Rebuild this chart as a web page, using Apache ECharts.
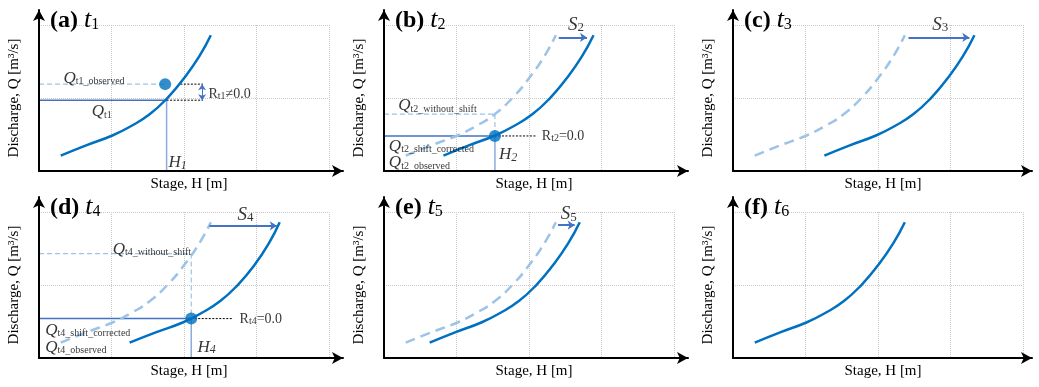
<!DOCTYPE html>
<html>
<head>
<meta charset="utf-8">
<script src="https://cdn.jsdelivr.net/npm/echarts@6/dist/echarts.min.js"></script>
<style>
html, body { margin: 0; padding: 0; background: #fff; }
#chart { width: 1039px; height: 387px; }
</style>
</head>
<body>
<div id="chart"></div>
<script>
// discharge values shared by every rating curve (axis units: 0..2)
var curveQ = [0.21, 0.35, 0.49, 0.61, 0.78, 1.01, 1.27, 1.57, 1.86];
// stage values of each curve (axis units: 0..4)
var stageT1 = [0.30, 0.65, 1.02, 1.26, 1.53, 1.78, 2.00, 2.21, 2.37];
var stageT2 = [0.82, 1.17, 1.54, 1.78, 2.05, 2.30, 2.52, 2.73, 2.89];
var stageT3 = [1.26, 1.61, 1.98, 2.22, 2.49, 2.74, 2.96, 3.17, 3.33];
var stageT4 = [1.25, 1.61, 1.99, 2.23, 2.50, 2.75, 2.97, 3.17, 3.32];
var stageT5 = [0.63, 0.98, 1.35, 1.59, 1.86, 2.11, 2.33, 2.54, 2.70];
var stageT6 = [0.30, 0.65, 1.02, 1.26, 1.53, 1.78, 2.00, 2.21, 2.37];

var panelTags = ['a', 'b', 'c', 'd', 'e', 'f'];
var panelTimes = ['1', '2', '3', '4', '5', '6'];
var solidStages = [stageT1, stageT2, stageT3, stageT4, stageT5, stageT6];
var dashedStages = [null, stageT1, stageT1, stageT1, stageT1, null];

var shiftArrows = [null, [[2.41, 1.83], [2.80, 1.83]], [[2.42, 1.83], [3.26, 1.83]],
  [[2.35, 1.81], [3.28, 1.81]], [[2.40, 1.82], [2.63, 1.82]], null];
var observedPoints = [[1.74, 1.19], [1.53, 0.48], null, [2.10, 0.54], null, null];
var qLines = [[[0, 0.97], [1.76, 0.97]], [[0, 0.48], [1.53, 0.48]], null, [[0, 0.54], [2.10, 0.54]], null, null];
var hLines = [[[1.76, 0.97], [1.76, 0]], [[1.53, 0.48], [1.53, 0]], null, [[2.10, 0.54], [2.10, 0]], null, null];
var dashLines = [
  [[[0, 1.19], [1.74, 1.19]]],
  [[[0, 0.78], [1.53, 0.78]], [[1.53, 0.78], [1.53, 0.48]]],
  [],
  [[[0, 1.43], [2.10, 1.43]], [[2.10, 1.43], [2.10, 0.54]]],
  [], []
];
var dotLines = [
  [[[1.95, 1.19], [2.26, 1.19]], [[1.76, 0.97], [2.26, 0.97]]],
  [[[1.53, 0.48], [2.11, 0.48]]],
  [],
  [[[2.10, 0.54], [2.68, 0.54]]],
  [], []
];
var residualArrow = [[2.25, 1.19], [2.25, 0.97]];

var panelLabels = [
  [[0.33, 1.27, '{q|Q}{qs|t1_observed}'], [0.72, 0.81, '{q|Q}{qs|t1}'],
   [2.33, 1.05, '{r|R}{rs|t1}{r|≠0.0}'], [1.78, 0.11, '{h|H}{hs|1}']],
  [[0.19, 0.89, '{q|Q}{qs|t2_without_shift}'], [0.06, 0.34, '{q|Q}{qs|t2_shift_corrected}'],
   [0.06, 0.11, '{q|Q}{qs|t2_observed}'], [2.17, 0.47, '{r|R}{rs|t2}{r|=0.0}'],
   [1.58, 0.22, '{h|H}{hs|2}'], [2.53, 2.00, '{s|S}{ss|2}']],
  [[2.74, 2.00, '{s|S}{ss|3}']],
  [[1.01, 1.49, '{q|Q}{qs|t4_without_shift}'], [0.08, 0.38, '{q|Q}{qs|t4_shift_corrected}'],
   [0.08, 0.15, '{q|Q}{qs|t4_observed}'], [2.76, 0.53, '{r|R}{rs|t4}{r|=0.0}'],
   [2.18, 0.14, '{h|H}{hs|4}'], [2.73, 1.96, '{s|S}{ss|4}']],
  [[2.43, 1.97, '{s|S}{ss|5}']],
  []
];

var FONT = "'Liberation Serif', 'Times New Roman', serif";
var layout = [[39, 25], [384, 25], [733, 25], [39, 212], [384, 212], [733, 212]];

var rich = {
  q: { fontFamily: FONT, fontStyle: 'italic', fontSize: 17, color: '#000', verticalAlign: 'bottom' },
  qs: { fontFamily: FONT, fontSize: 10, color: '#000', verticalAlign: 'bottom' },
  r: { fontFamily: FONT, fontSize: 14, color: '#000', verticalAlign: 'bottom' },
  rs: { fontFamily: FONT, fontSize: 10, color: '#000', verticalAlign: 'bottom' },
  h: { fontFamily: FONT, fontStyle: 'italic', fontSize: 17, color: '#000', verticalAlign: 'bottom' },
  hs: { fontFamily: FONT, fontStyle: 'italic', fontSize: 12, color: '#000', verticalAlign: 'bottom' },
  s: { fontFamily: FONT, fontStyle: 'italic', fontSize: 19, color: '#000', verticalAlign: 'bottom' },
  ss: { fontFamily: FONT, fontSize: 13, color: '#000', verticalAlign: 'bottom' }
};

var grid = [], xAxis = [], yAxis = [], series = [], title = [];

function zip(xs, ys) {
  return xs.map(function (x, k) { return [x, ys[k]]; });
}

function seg(i, pts, color, width, type) {
  return {
    type: 'line', xAxisIndex: 2 * i + 1, yAxisIndex: 2 * i + 1, data: pts,
    showSymbol: false, symbol: 'none', silent: true, z: 2,
    lineStyle: { color: color, width: width, type: type }
  };
}

function arrow(i, pts, syms, size, width) {
  return {
    type: 'line', xAxisIndex: 2 * i + 1, yAxisIndex: 2 * i + 1, data: [], z: 3,
    markLine: {
      silent: true, symbol: syms, symbolSize: size, label: { show: false },
      lineStyle: { color: '#4472c4', width: width, type: 'solid' },
      emphasis: { disabled: true },
      data: [[{ coord: pts[0] }, { coord: pts[1] }]]
    }
  };
}

panelTags.forEach(function (tag, i) {
  var L = layout[i][0], T = layout[i][1];
  var outerW = (i % 3 === 2) ? 299 : 304;
  // outer grid: black axes with arrows
  grid.push({ left: L, top: T - 15, width: outerW, height: 161, containLabel: false, outerBoundsMode: 'none' });
  // inner grid: dotted grid and data
  grid.push({ left: L, top: T, width: 290, height: 146, containLabel: false, outerBoundsMode: 'none' });

  var arrowAxis = {
    gridIndex: 2 * i, type: 'value', min: 0, max: 1, z: 5,
    axisLine: { show: true, symbol: ['none', 'arrow'], symbolSize: [9, 11], lineStyle: { color: '#000', width: 2 } },
    axisTick: { show: false }, axisLabel: { show: false }, splitLine: { show: false }
  };
  xAxis.push(arrowAxis);
  yAxis.push(Object.assign({}, arrowAxis));

  var gridLine = { show: true, lineStyle: { color: '#c8c8c8', type: 'dotted', width: 1 } };
  xAxis.push({
    gridIndex: 2 * i + 1, type: 'value', min: 0, max: 4, interval: 1,
    axisLine: { show: false }, axisTick: { show: false }, axisLabel: { show: false }, splitLine: gridLine,
    name: 'Stage, H [m]', nameLocation: 'middle', nameGap: 6,
    nameTextStyle: { fontFamily: FONT, fontSize: 15, color: '#000', padding: [0, 0, 0, 10] }
  });
  yAxis.push({
    gridIndex: 2 * i + 1, type: 'value', min: 0, max: 2, interval: 1,
    axisLine: { show: false }, axisTick: { show: false }, axisLabel: { show: false }, splitLine: gridLine,
    name: 'Discharge, Q [m³/s]', nameLocation: 'middle', nameGap: 17,
    nameTextStyle: { fontFamily: FONT, fontSize: 15, color: '#000' }
  });

  title.push({
    text: '{p|(' + tag + ')} {t|t}{ts|' + panelTimes[i] + '}',
    left: L + 6, top: T - 23,
    textStyle: {
      fontFamily: FONT, fontSize: 24, fontWeight: 'normal', color: '#000',
      rich: {
        p: { fontFamily: FONT, fontWeight: 'bold', fontSize: 24, color: '#000', verticalAlign: 'bottom' },
        t: { fontFamily: FONT, fontStyle: 'italic', fontWeight: 'normal', fontSize: 26, color: '#000', verticalAlign: 'bottom' },
        ts: { fontFamily: FONT, fontWeight: 'normal', fontSize: 16, color: '#000', verticalAlign: 'bottom' }
      }
    }
  });

  // guide lines
  if (qLines[i]) series.push(seg(i, qLines[i], '#4472c4', 1.5, 'solid'));
  if (hLines[i]) series.push(seg(i, hLines[i], '#8faadc', 1.5, 'solid'));
  dashLines[i].forEach(function (p) { series.push(seg(i, p, '#9dc3e6', 1.2, [5, 3])); });
  dotLines[i].forEach(function (p) { series.push(seg(i, p, '#000', 1, [2, 1.5])); });
  if (i === 0) series.push(arrow(i, residualArrow, ['arrow', 'arrow'], 6, 1));
  if (shiftArrows[i]) series.push(arrow(i, shiftArrows[i], ['none', 'arrow'], 7, 2));

  // rating curves
  if (dashedStages[i]) {
    series.push({
      type: 'line', xAxisIndex: 2 * i + 1, yAxisIndex: 2 * i + 1, data: zip(dashedStages[i], curveQ),
      showSymbol: false, symbol: 'none', smooth: 0.5, silent: true, z: 3,
      lineStyle: { color: '#9dc3e6', width: 2.5, type: [10, 6] }
    });
  }
  series.push({
    type: 'line', xAxisIndex: 2 * i + 1, yAxisIndex: 2 * i + 1, data: zip(solidStages[i], curveQ),
    showSymbol: false, symbol: 'none', smooth: 0.5, silent: true, z: 3,
    lineStyle: { color: '#0070c0', width: 2.5 }
  });

  if (observedPoints[i]) {
    series.push({
      type: 'scatter', xAxisIndex: 2 * i + 1, yAxisIndex: 2 * i + 1, data: [observedPoints[i]],
      symbolSize: 12, itemStyle: { color: '#0070c0' }, silent: true, z: 4
    });
  }

  if (panelLabels[i].length) {
    series.push({
      type: 'scatter', xAxisIndex: 2 * i + 1, yAxisIndex: 2 * i + 1, clip: false, silent: true, z: 5,
      symbolSize: 1, itemStyle: { color: 'rgba(0,0,0,0)' },
      data: panelLabels[i].map(function (d) {
        return { value: [d[0], d[1]], label: { formatter: d[2] } };
      }),
      label: { show: true, position: 'right', distance: 0, rich: rich }
    });
  }
});

var chart = echarts.init(document.getElementById('chart'));
chart.setOption({
  animation: false,
  backgroundColor: '#fff',
  title: title,
  grid: grid,
  xAxis: xAxis,
  yAxis: yAxis,
  series: series
});
</script>
</body>
</html>
